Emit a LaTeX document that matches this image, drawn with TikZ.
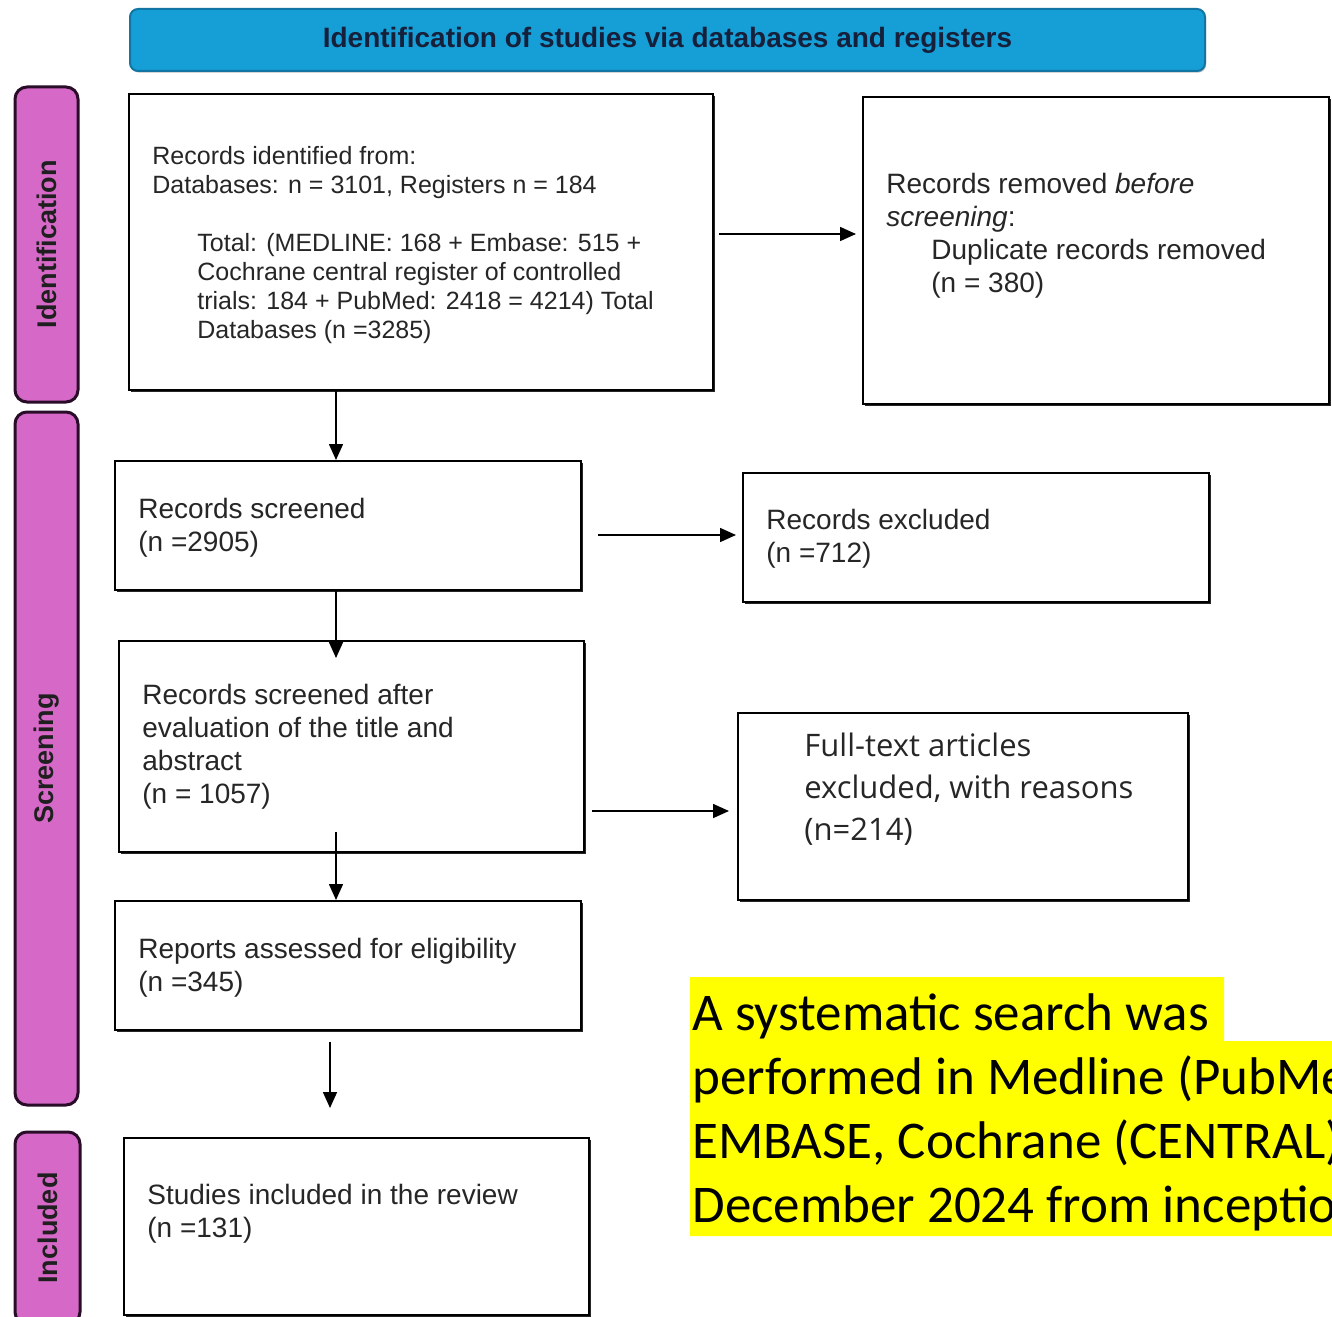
\documentclass[tikz,border=0pt]{standalone}
\usepackage{fontspec}
\setmainfont{Liberation Sans}
\newfontfamily\ftfont{Open Sans}
\newfontfamily\calfont{Carlito}
\usetikzlibrary{arrows.meta,shadows}
\definecolor{bannerblue}{RGB}{22,158,214}
\definecolor{bannerline}{RGB}{18,118,165}
\definecolor{bannertxt}{RGB}{22,32,58}
\definecolor{barpink}{RGB}{214,104,200}
\definecolor{barline}{RGB}{40,12,40}
\definecolor{txt}{RGB}{38,38,38}
\definecolor{hl}{RGB}{255,255,0}
\begin{document}
\begin{tikzpicture}[x=0.5pt,y=-0.5pt,
  box/.style={draw=black,line width=1.1pt,fill=white,inner sep=0pt,anchor=north west,
    drop shadow={shadow xshift=0.8pt,shadow yshift=-0.8pt,fill=black,opacity=0.85}},
  bar/.style={draw=barline,fill=barpink,line width=1.5pt,rounded corners=6pt,inner sep=0pt,
    rotate=90,font=\bfseries\fontsize{13.5}{16}\selectfont,text=black!88},
  big/.style={inner sep=0pt,anchor=north west,align=left,text=txt,font=\fontsize{14}{16.5}\selectfont},
  small/.style={inner sep=0pt,anchor=north west,align=left,text=txt,font=\fontsize{12.5}{14.5}\selectfont},
  arr/.style={draw=black,line width=0.8pt,-{Triangle[length=8pt,width=7pt]}}
]
\useasboundingbox (0,0) rectangle (1332,1316);
\clip (0,0) rectangle (1332,1316);
\fill[white] (0,0) rectangle (1332,1316);

% banner
\node[draw=bannerline,fill=bannerblue,line width=1pt,rounded corners=4pt,
  minimum width=537.5pt,minimum height=31pt,inner sep=0pt,
  font=\bfseries\fontsize{14}{16}\selectfont,text=bannertxt,
  drop shadow={shadow xshift=0.6pt,shadow yshift=-0.8pt,fill=black,opacity=0.25}]
  (banner) at (667.5,40) {Identification of studies via databases and registers};

% side bars
\node[bar,minimum width=157.5pt,minimum height=31.5pt] (idbar) at (46.5,244.5) {Identification};
\node[bar,minimum width=346.5pt,minimum height=31.5pt] (scrbar) at (46.5,758.5) {Screening};
\node[bar,minimum width=96pt,minimum height=32.5pt] (incbar) at (47.5,1228) {Included};

% boxes
\node[box,minimum width=292pt,minimum height=148pt] (box1) at (128,93) {};
\node[box,minimum width=233pt,minimum height=153.5pt] (rem) at (862,96) {};
\node[box,minimum width=233pt,minimum height=64.5pt] (scr) at (114,460) {};
\node[box,minimum width=233pt,minimum height=64.5pt] (exc) at (742,472) {};
\node[box,minimum width=232.5pt,minimum height=105.5pt] (aft) at (118,640) {};
\node[box,minimum width=225pt,minimum height=93.5pt] (ft) at (737,712) {};
\node[box,minimum width=233pt,minimum height=64.5pt] (rep) at (114,900) {};
\node[box,minimum width=232.5pt,minimum height=88.5pt] (inc) at (123,1137) {};

% texts
\node[small] (box1a) at (152,146) {Records identified from:\\Databases: n = 3101, Registers n = 184};
\node[small] (box1b) at (197,233) {Total: (MEDLINE: 168 + Embase: 515 +\\Cochrane central register of controlled\\trials: 184 + PubMed: 2418 = 4214) Total\\Databases (n =3285)};
\node[big] (remt) at (886,172.5) {Records removed \textit{before}\\\textit{screening}:\\\hspace*{22.5pt}Duplicate records removed\\\hspace*{22.5pt}(n = 380)};
\node[big] (scrt) at (138,497.5) {Records screened\\(n =2905)};
\node[big] (exct) at (766,508.5) {Records excluded\\(n =712)};
\node[big] (aftt) at (142,683.5) {Records screened after\\evaluation of the title and\\abstract\\(n = 1057)};
\node[inner sep=0pt,anchor=north west,align=left,text=txt,font=\ftfont\fontsize{15.5}{21}\selectfont]
  (ftt) at (804,733) {Full-text articles\\excluded, with reasons\\(n=214)};
\node[big] (rept) at (138,937.5) {Reports assessed for eligibility\\(n =345)};
\node[big] (inct) at (147,1183.5) {Studies included in the review\\(n =131)};

% arrows
\coordinate (cx336) at (336,0);
\coordinate (cx330) at (330,0);
\coordinate (cy234) at (0,234);
\coordinate (cy535) at (0,535);
\coordinate (cy811) at (0,811);
\coordinate (a3end) at (336,658);
\coordinate (a5start) at (336,832);
\draw[arr] (box1.south -| cx336) -- (scr.north -| cx336);
\draw[arr,shorten <=2.5pt,shorten >=3pt] (box1.east |- cy234) -- (rem.west |- cy234);
\draw[arr] (scr.south -| cx336) -- (a3end);
\draw[arr,shorten <=8pt,shorten >=3pt] (scr.east |- cy535) -- (exc.west |- cy535);
\draw[arr] (a5start) -- (rep.north -| cx336);
\draw[arr,shorten <=3.5pt,shorten >=4pt] (aft.east |- cy811) -- (ft.west |- cy811);
\draw[arr,shorten <=5.5pt,shorten >=14.5pt] (rep.south -| cx330) -- (inc.north -| cx330);

% highlighted note (cut off at the right edge, as in the reference)
\fill[hl] (690,977) -- (1224,977) -- (1224,1041) -- (1332,1041) -- (1332,1236) -- (690,1236) -- cycle;
\node[inner sep=0pt,anchor=north west,align=left,text=black,font=\calfont\fontsize{26.5}{32}\selectfont]
  (note) at (692,993) {A systematic search was\\performed in Medline (PubMed),\\EMBASE, Cochrane (CENTRAL) and\\December 2024 from inception to};
\end{tikzpicture}
\end{document}
